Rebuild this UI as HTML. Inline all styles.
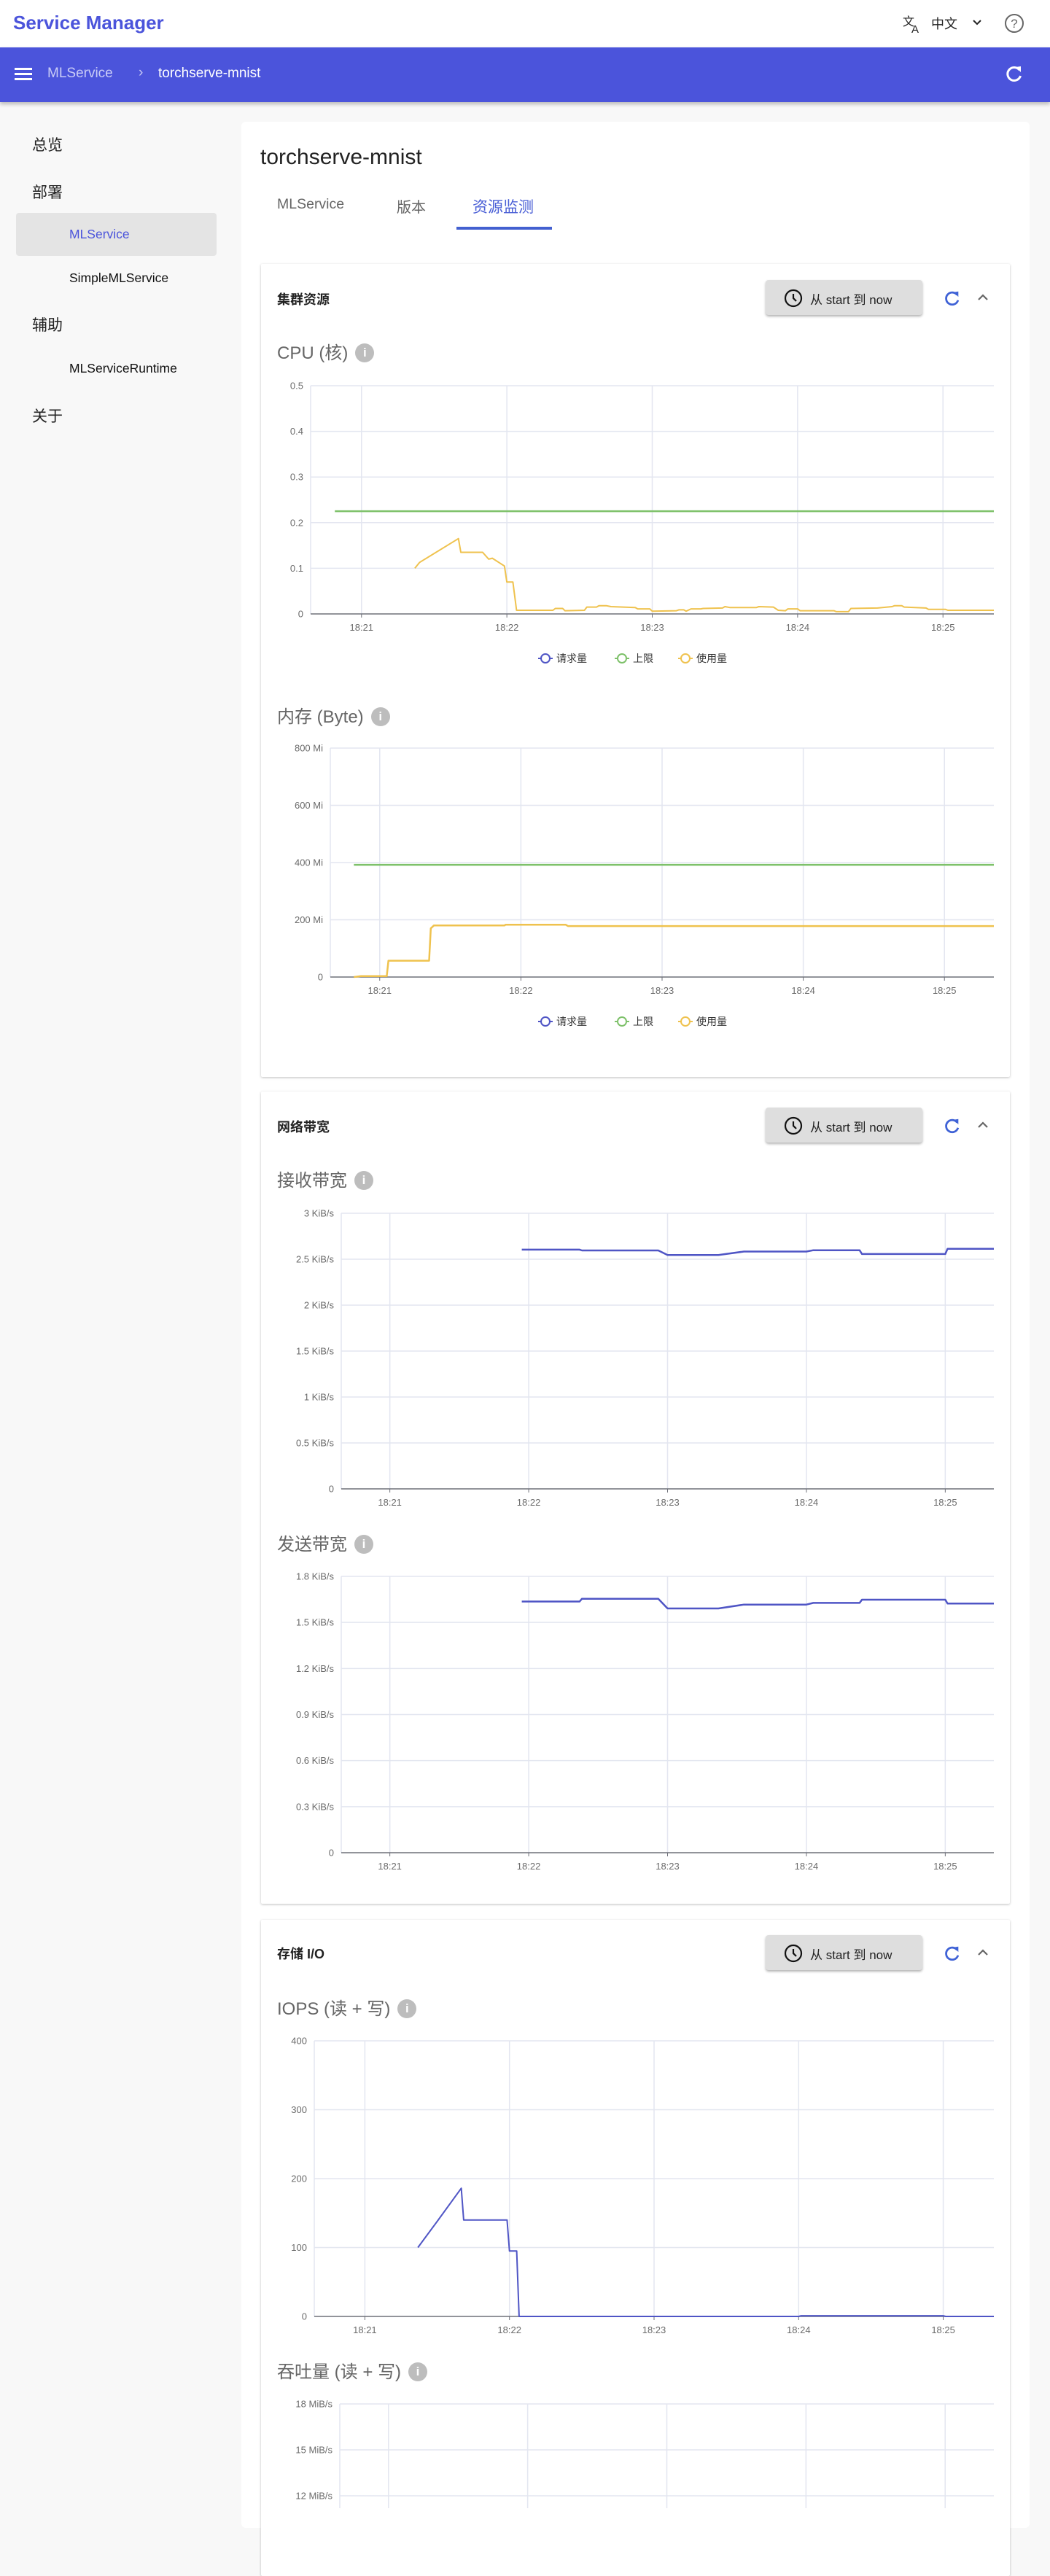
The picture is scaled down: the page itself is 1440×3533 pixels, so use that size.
<!DOCTYPE html>
<html><head><meta charset="utf-8">
<style>
*{margin:0;padding:0;box-sizing:border-box}
body{width:1440px;height:3440px;background:#f8f8f8;font-family:"Liberation Sans","Noto Sans CJK SC",sans-serif;position:relative;overflow:hidden}
.abs{position:absolute;white-space:nowrap}
.card{position:absolute;background:#fff;border-radius:6px}
.inner{position:absolute;background:#fff;box-shadow:0 1px 3px rgba(0,0,0,0.25);border-radius:2px}
.btn{position:absolute;width:215px;height:48px;background:#dedede;border-radius:4px;box-shadow:0 2px 3px rgba(0,0,0,0.3);font-size:17px;color:#222}
.ctitle{position:absolute;font-size:24px;color:#666;white-space:nowrap}
.info{display:inline-block;width:26px;height:26px;border-radius:50%;background:#bdbdbd;color:#fff;font-size:17px;font-weight:bold;text-align:center;line-height:26px;vertical-align:3px;margin-left:10px}
.shead{position:absolute;font-size:18px;color:#222;font-weight:bold}
</style></head><body>
<div class="abs" style="left:0;top:0;width:1440px;height:65px;background:#fff;box-shadow:0 2px 4px rgba(0,0,0,0.1)"></div>
<div class="abs" style="left:18px;top:16px;font-size:26px;font-weight:bold;color:#4b54db">Service Manager</div>
<svg class="abs" style="left:1238px;top:20px" width="28" height="26" viewBox="0 0 28 26"><text x="0" y="15" font-size="16" fill="#222" font-family="Noto Sans CJK SC">文</text><text x="12" y="25" font-size="15" fill="#222" font-family="Liberation Sans">A</text></svg>
<div class="abs" style="left:1277px;top:19px;font-size:18px;color:#222">中文</div>
<svg class="abs" style="left:1333px;top:26px" width="14" height="10"><path d="M2 2 L7 7 L12 2" stroke="#222" stroke-width="2" fill="none"/></svg>
<svg class="abs" style="left:1377px;top:18px" width="28" height="28"><circle cx="14" cy="14" r="12" stroke="#666" stroke-width="2" fill="none"/><text x="14" y="20" font-size="17" text-anchor="middle" fill="#666" font-family="Liberation Sans">?</text></svg>

<div class="abs" style="left:0;top:65px;width:1440px;height:75px;background:#4b54db;box-shadow:0 3px 5px rgba(0,0,0,0.25)"></div>
<svg class="abs" style="left:20px;top:91px" width="26" height="22"><rect x="0" y="2" width="24" height="3" fill="#fff"/><rect x="0" y="9" width="24" height="3" fill="#fff"/><rect x="0" y="16" width="24" height="3" fill="#fff"/></svg>
<div class="abs" style="left:65px;top:90px;font-size:19px;color:#c9ccf6">MLService</div>
<div class="abs" style="left:190px;top:89px;font-size:19px;color:#c9ccf6">›</div>
<div class="abs" style="left:217px;top:90px;font-size:19px;color:#fff">torchserve-mnist</div>
<svg class="abs" style="left:1378px;top:88px" width="26" height="26" viewBox="0 0 26 26"><path d="M20 8 A9 9 0 1 0 21.5 16" stroke="#fff" stroke-width="3" fill="none"/><path d="M15 4 L22 3 L22 11 Z" fill="#fff"/></svg>

<!-- sidebar -->
<div class="abs" style="left:44px;top:183px;font-size:21px;color:#222">总览</div>
<div class="abs" style="left:44px;top:248px;font-size:21px;color:#222">部署</div>
<div class="abs" style="left:22px;top:292px;width:275px;height:59px;background:#e4e4e4;border-radius:4px"></div>
<div class="abs" style="left:95px;top:311px;font-size:17.5px;color:#4b54db">MLService</div>
<div class="abs" style="left:95px;top:371px;font-size:17.5px;color:#111">SimpleMLService</div>
<div class="abs" style="left:44px;top:430px;font-size:21px;color:#222">辅助</div>
<div class="abs" style="left:95px;top:495px;font-size:17.5px;color:#111">MLServiceRuntime</div>
<div class="abs" style="left:44px;top:555px;font-size:21px;color:#222">关于</div>

<!-- main card -->
<div class="card" style="left:331px;top:167px;width:1081px;height:3300px"></div>
<div class="abs" style="left:357px;top:199px;font-size:30px;color:#222">torchserve-mnist</div>
<div class="abs" style="left:380px;top:269px;font-size:19.5px;color:#666">MLService</div>
<div class="abs" style="left:544px;top:268px;font-size:20px;color:#666">版本</div>
<div class="abs" style="left:648px;top:268px;font-size:21px;color:#4a5fd6">资源监测</div>
<div class="abs" style="left:626px;top:311px;width:131px;height:4px;background:#4360d0"></div>

<!-- section cards -->
<div class="inner" style="left:358px;top:362px;width:1027px;height:1115px"></div>
<div class="inner" style="left:358px;top:1497px;width:1027px;height:1114px"></div>
<div class="inner" style="left:358px;top:2633px;width:1027px;height:900px"></div>

<div class="shead" style="left:380px;top:397px">集群资源</div>
<div class="shead" style="left:380px;top:1532px">网络带宽</div>
<div class="shead" style="left:380px;top:2666px">存储 I/O</div>

<div id="btns"></div>

<div class="ctitle" style="left:380px;top:464px">CPU (核)<span class="info">i</span></div>
<div class="ctitle" style="left:380px;top:963px">内存 (Byte)<span class="info">i</span></div>
<div class="ctitle" style="left:380px;top:1599px">接收带宽<span class="info">i</span></div>
<div class="ctitle" style="left:380px;top:2098px">发送带宽<span class="info">i</span></div>
<div class="ctitle" style="left:380px;top:2735px">IOPS (读 + 写)<span class="info">i</span></div>
<div class="ctitle" style="left:380px;top:3233px">吞吐量 (读 + 写)<span class="info">i</span></div>

<svg id="charts" class="abs" style="left:0;top:0" width="1440" height="3440"></svg>

<script>
// ---- data (time in seconds since 18:21) ----
const xTickSecs = [0, 60, 120, 180, 240];
const xTickLabels = ['18:21', '18:22', '18:23', '18:24', '18:25'];
const legendLabels = ['请求量', '上限', '使用量'];

const cpuTimes = [22, 24, 40, 41, 50, 52.5, 54, 59, 60, 62.5, 64, 79, 80, 83, 84, 92, 93, 97, 98, 101, 103, 113, 114, 119, 120, 130, 131, 133, 134, 136, 140, 141, 149, 150, 152, 163, 164, 170, 172, 175, 176, 180, 181, 195, 196, 201, 202, 213, 219, 220, 223, 224, 233, 234, 241, 242, 261];
const cpuUsage = [0.1, 0.113, 0.165, 0.135, 0.135, 0.12, 0.122, 0.105, 0.07, 0.07, 0.008, 0.008, 0.012, 0.012, 0.007, 0.008, 0.015, 0.015, 0.018, 0.018, 0.016, 0.014, 0.011, 0.011, 0.006, 0.007, 0.009, 0.009, 0.006, 0.011, 0.011, 0.012, 0.013, 0.016, 0.014, 0.014, 0.016, 0.015, 0.008, 0.007, 0.011, 0.011, 0.007, 0.007, 0.005, 0.005, 0.012, 0.013, 0.016, 0.018, 0.018, 0.015, 0.013, 0.010, 0.010, 0.008, 0.008];
const cpuLimitTimes = [-11, 261];
const cpuLimit = [0.225, 0.225];
const cpuYTicks = [0, 0.1, 0.2, 0.3, 0.4, 0.5];
const cpuYLabels = ['0', '0.1', '0.2', '0.3', '0.4', '0.5'];

const memTimes = [-11, -8, 3, 3.7, 21, 21.7, 23, 53, 53.5, 79, 80, 261];
const memUsage = [0, 3, 3, 57, 57, 170, 180, 180, 183, 183, 178, 178];
const memLimitTimes = [-11, 261];
const memLimit = [392, 392];
const memYTicks = [0, 200, 400, 600, 800];
const memYLabels = ['0', '200 Mi', '400 Mi', '600 Mi', '800 Mi'];

const rxTimes = [57, 82, 83, 116, 120, 142, 153, 180, 183, 203, 204, 240, 241, 261];
const rxValues = [2.604, 2.604, 2.595, 2.595, 2.545, 2.545, 2.583, 2.583, 2.598, 2.598, 2.556, 2.556, 2.613, 2.613];
const rxYTicks = [0, 0.5, 1, 1.5, 2, 2.5, 3];
const rxYLabels = ['0', '0.5 KiB/s', '1 KiB/s', '1.5 KiB/s', '2 KiB/s', '2.5 KiB/s', '3 KiB/s'];

const txTimes = [57, 82, 83, 116, 120, 142, 153, 180, 183, 203, 204, 240, 241, 261];
const txValues = [1.636, 1.636, 1.654, 1.654, 1.591, 1.591, 1.616, 1.616, 1.627, 1.627, 1.648, 1.648, 1.623, 1.623];
const txYTicks = [0, 0.3, 0.6, 0.9, 1.2, 1.5, 1.8];
const txYLabels = ['0', '0.3 KiB/s', '0.6 KiB/s', '0.9 KiB/s', '1.2 KiB/s', '1.5 KiB/s', '1.8 KiB/s'];

const iopsTimes = [22, 30, 40, 41, 59, 60, 63, 64, 180, 181, 240, 241, 261];
const iopsValues = [100, 138, 186, 140, 140, 95, 95, 0, 0, 1, 1, 0, 0];
const iopsYTicks = [0, 100, 200, 300, 400];
const iopsYLabels = ['0', '100', '200', '300', '400'];

const tpYTicks = [0, 3, 6, 9, 12, 15, 18];
const tpYLabels = ['0', '3 MiB/s', '6 MiB/s', '9 MiB/s', '12 MiB/s', '15 MiB/s', '18 MiB/s'];

const BLUE = '#4f55c5', GREEN = '#7ec16a', YELLOW = '#efc24e';
const svg = document.getElementById('charts');
const NS = 'http://www.w3.org/2000/svg';
function mk(tag, attrs, parent) {
  const e = document.createElementNS(NS, tag);
  for (const k in attrs) e.setAttribute(k, attrs[k]);
  (parent || svg).appendChild(e);
  return e;
}

function chart(name, geo, yTicks, yLabels, series) {
  const g = mk('g', {});
  
  
  const T0 = -21, T1 = 261, R = 1363;
  const xs = t => geo.left + (t - T0) / (T1 - T0) * (R - geo.left);
  const ymax = yTicks[yTicks.length - 1];
  const ys = v => geo.bottom - v / ymax * (geo.bottom - geo.top);
  // horizontal grid
  yTicks.forEach((v, i) => {
    const y = ys(v);
    if (y > 3440) return;
    if (i > 0) {
      const l = mk('line', {x1: geo.left, x2: R, y1: y, y2: y, stroke: '#e3e6f0', 'stroke-width': 1.5}, g);
      
      
    }
    const t = mk('text', {x: geo.left - 10, y: y + 4.5, 'text-anchor': 'end', 'font-size': 13, fill: '#6b6b6b', 'font-family': 'Liberation Sans'}, g);
    t.textContent = yLabels[i];
    
    
  });
  const bottomVis = Math.min(geo.bottom, 3440);
  // vertical grid
  mk('line', {x1: geo.left, x2: geo.left, y1: geo.top, y2: bottomVis, stroke: '#e3e6f0', 'stroke-width': 1.5}, g);
  xTickSecs.forEach((s, i) => {
    const x = xs(s);
    const l = mk('line', {x1: x, x2: x, y1: geo.top, y2: bottomVis, stroke: '#e3e6f0', 'stroke-width': 1.5}, g);
    
    
    if (geo.bottom < 3440) {
      mk('line', {x1: x, x2: x, y1: geo.bottom, y2: geo.bottom + 5, stroke: '#6e7079', 'stroke-width': 1}, g);
      const t = mk('text', {x: x, y: geo.bottom + 23, 'text-anchor': 'middle', 'font-size': 13, fill: '#6b6b6b', 'font-family': 'Liberation Sans'}, g);
      t.textContent = xTickLabels[i];
      
      
    }
  });
  if (geo.bottom < 3440) {
    const ax = mk('line', {x1: geo.left, x2: R, y1: geo.bottom, y2: geo.bottom, stroke: '#6e7079', 'stroke-width': 1.5}, g);
    
    
  }
  series.forEach(s => {
    const d = s.times.map((t, i) => (i ? 'L' : 'M') + xs(t).toFixed(1) + ' ' + ys(s.values[i]).toFixed(1)).join(' ');
    const p = mk('path', {d: d, stroke: s.color, 'stroke-width': s.w || 2, fill: 'none', 'stroke-linejoin': 'round'}, g);
    
    
  });
}

function legend(name, y) {
  const g = mk('g', {});
  
  
  const cols = [BLUE, GREEN, YELLOW];
  const starts = [748, 853, 940];
  legendLabels.forEach((lab, i) => {
    const x = starts[i];
    const e = mk('g', {}, g);
    
    
    mk('line', {x1: x - 10, x2: x + 10, y1: y, y2: y, stroke: cols[i], 'stroke-width': 2}, e);
    mk('circle', {cx: x, cy: y, r: 6, stroke: cols[i], 'stroke-width': 2, fill: '#fff'}, e);
    const t = mk('text', {x: x + 15, y: y + 5, 'font-size': 14, fill: '#333', 'font-family': 'Liberation Sans, Noto Sans CJK SC, sans-serif'}, e);
    t.textContent = lab;
  });
}

chart('cpu', {left: 426, top: 529, bottom: 842}, cpuYTicks, cpuYLabels, [
  {name: 'limit', times: cpuLimitTimes, values: cpuLimit, color: GREEN, w: 2.5},
  {name: 'usage', times: cpuTimes, values: cpuUsage, color: YELLOW}
]);
legend('cpu', 903);
chart('memory', {left: 453, top: 1026, bottom: 1340}, memYTicks, memYLabels, [
  {name: 'limit', times: memLimitTimes, values: memLimit, color: GREEN, w: 2.5},
  {name: 'usage', times: memTimes, values: memUsage, color: YELLOW, w: 2.5}
]);
legend('memory', 1401);
chart('receive', {left: 468, top: 1664, bottom: 2042}, rxYTicks, rxYLabels, [
  {name: 'rx', times: rxTimes, values: rxValues, color: BLUE, w: 2.5}
]);
chart('send', {left: 468, top: 2162, bottom: 2541}, txYTicks, txYLabels, [
  {name: 'tx', times: txTimes, values: txValues, color: BLUE, w: 2.5}
]);
chart('iops', {left: 431, top: 2799, bottom: 3177}, iopsYTicks, iopsYLabels, [
  {name: 'iops', times: iopsTimes, values: iopsValues, color: BLUE, w: 2}
]);
chart('throughput', {left: 466, top: 3297, bottom: 3675}, tpYTicks, tpYLabels, []);

// section header buttons / icons
const btnTops = [384, 1519, 2654];
const btnNames = ['cluster', 'network', 'storage'];
const holder = document.getElementById('btns');
btnTops.forEach((top, i) => {
  const b = document.createElement('div');
  b.className = 'btn';
  b.style.left = '1050px'; b.style.top = top + 'px';
  
  
  b.innerHTML = '<svg style="position:absolute;left:25px;top:12px" width="26" height="26"><circle cx="13" cy="13" r="11" stroke="#111" stroke-width="2.2" fill="none"/><path d="M13 7 V13 L17 17" stroke="#111" stroke-width="2.2" fill="none"/></svg><span style="position:absolute;left:61px;top:13px;white-space:nowrap">从 start 到 now</span>';
  holder.appendChild(b);
  const r = document.createElement('div');
  r.className = 'abs';
  r.style.left = '1294px'; r.style.top = (top + 13) + 'px';
  
  
  r.innerHTML = '<svg width="24" height="24" viewBox="0 0 26 26"><path d="M20 8 A9 9 0 1 0 21.5 16" stroke="#3f62d6" stroke-width="3" fill="none"/><path d="M15 4 L22 3 L22 11 Z" fill="#3f62d6"/></svg>';
  holder.appendChild(r);
  const c = document.createElement('div');
  c.className = 'abs';
  c.style.left = '1340px'; c.style.top = (top + 16) + 'px';
  
  
  c.innerHTML = '<svg width="16" height="12"><path d="M2 10 L8 4 L14 10" stroke="#666" stroke-width="2.2" fill="none"/></svg>';
  holder.appendChild(c);
});
</script>
</body></html>
